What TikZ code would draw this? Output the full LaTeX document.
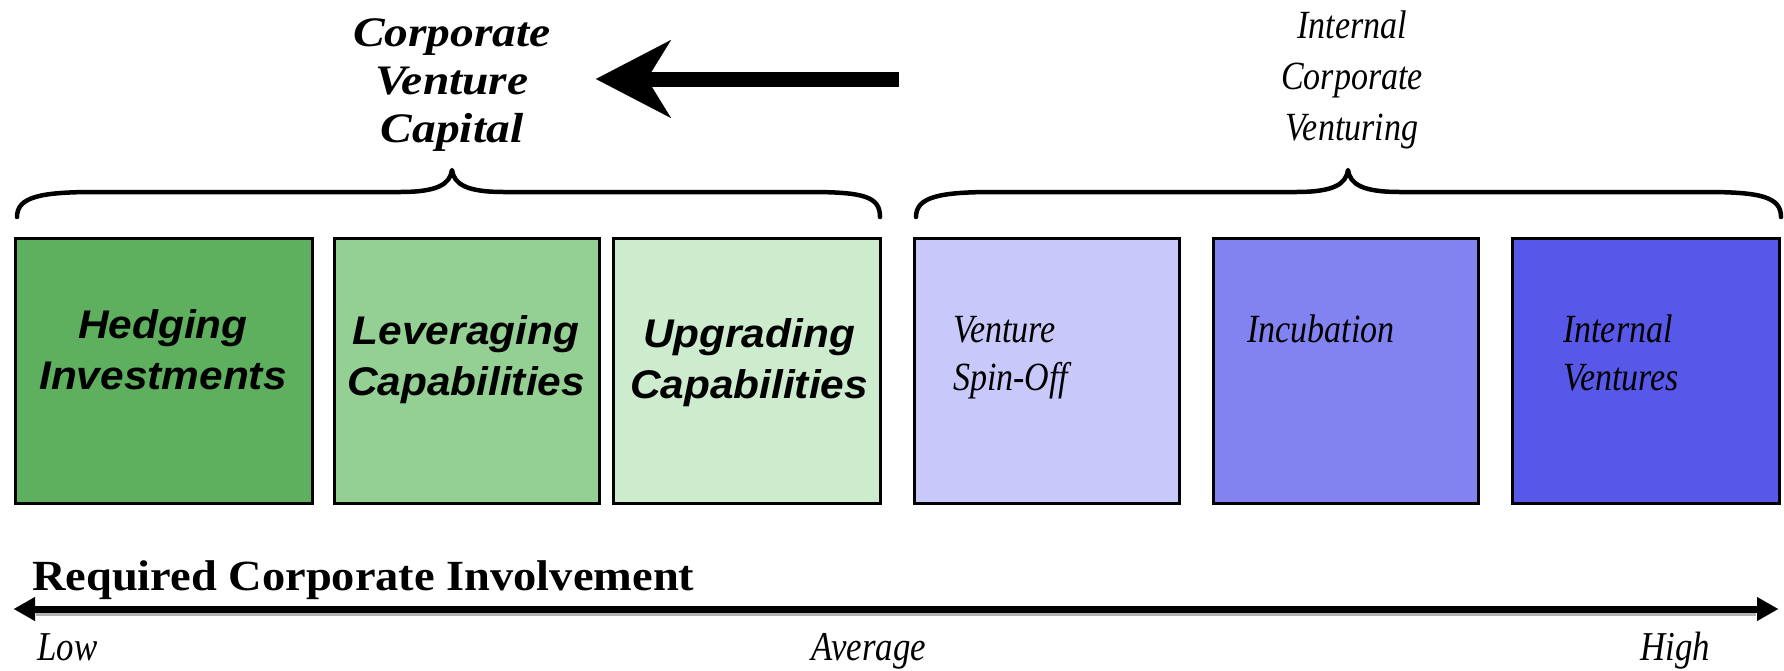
\documentclass[tikz,border=0pt]{standalone}
\usepackage{fontspec}
\setmainfont{Liberation Serif}
% narrow italic serif, wide bold serif and bold italic sans for the labels
\newfontfamily\gardisp[FakeStretch=0.85]{Liberation Serif}
\newfontfamily\gardispbold[FakeStretch=1.13]{Liberation Serif}
\newfontfamily\garhead[FakeStretch=1.08]{Liberation Serif}
\newfontfamily\boxsans[FakeStretch=1.06]{Liberation Sans}
\usetikzlibrary{arrows.meta,calc}

\definecolor{greenA}{RGB}{94,176,94}
\definecolor{greenB}{RGB}{148,207,148}
\definecolor{greenC}{RGB}{205,235,205}
\definecolor{blueA}{RGB}{200,200,250}
\definecolor{blueB}{RGB}{130,130,240}
\definecolor{blueC}{RGB}{88,88,232}

\begin{document}
\begin{tikzpicture}[x=1pt,y=-1pt,
  box/.style={draw=black, line width=3pt, minimum width=265pt, minimum height=265pt,
              anchor=north west, inner sep=0pt},
  sanslabel/.style={font=\boxsans\bfseries\itshape\fontsize{40}{51}\selectfont,
              align=center, anchor=base, inner sep=0pt},
  seriflabel/.style={font=\gardisp\itshape\fontsize{40}{48}\selectfont,
              align=left, anchor=base west, inner sep=0pt},
  grouptitle/.style={align=center, anchor=base, inner sep=0pt},
  scalelabel/.style={font=\gardisp\itshape\fontsize{41}{41}\selectfont, inner sep=0pt},
  bracestroke/.style={line width=4.5pt, line cap=round, line join=round}]
\useasboundingbox (0,0) rectangle (1784,670);

% group titles (multi-line nodes sit on the baseline of their last line)
\node[grouptitle, font=\gardispbold\bfseries\itshape\fontsize{42}{48}\selectfont]
  (cvc) at (452,142) {Corporate\\Venture\\Capital};
\node[grouptitle, font=\gardisp\itshape\fontsize{40}{51}\selectfont]
  (icv) at (1352,140) {Internal\\Corporate\\Venturing};

% direction arrow
\coordinate (pushTail) at (899,79);
\coordinate (pushTip) at (596,79);
\draw[line width=15pt, -{Stealth[length=75pt, width=78pt, inset=24pt, line width=0.1pt]}]
  (pushTail) -- (pushTip);

% curly braces over the two groups
\coordinate (cvcL) at (17,217);
\coordinate (cvcTip) at (452,170);
\coordinate (cvcR) at (880,217);
\draw[bracestroke] (cvcL) .. controls (17,197) and (40,192) .. (95,192) -- (400,192)
  .. controls (438,192) and (450,184) .. (cvcTip)
  .. controls (454,184) and (466,192) .. (504,192) -- (810,192)
  .. controls (865,192) and (880,197) .. (cvcR);
\coordinate (icvL) at (916,217);
\coordinate (icvTip) at (1348,170);
\coordinate (icvR) at (1781,217);
\draw[bracestroke] (icvL) .. controls (916,197) and (939,192) .. (994,192) -- (1296,192)
  .. controls (1334,192) and (1346,184) .. (icvTip)
  .. controls (1350,184) and (1362,192) .. (1400,192) -- (1706,192)
  .. controls (1761,192) and (1781,197) .. (icvR);

% the six forms of venturing
\node[box, fill=greenA, minimum width=297pt] (hedge) at (13.7,236.7) {};
\node[box, fill=greenB] (lever) at (333.4,236.7) {};
\node[box, fill=greenC, minimum width=267pt] (upgr) at (612.1,236.7) {};
\node[box, fill=blueA] (spin) at (912.5,236.7) {};
\node[box, fill=blueB] (incub) at (1211.7,236.7) {};
\node[box, fill=blueC, minimum width=267pt] (intv) at (1511,236.7) {};

\node[sanslabel] (hedgeT) at (163,389) {Hedging\\Investments};
\node[sanslabel] (leverT) at (466,395) {Leveraging\\Capabilities};
\node[sanslabel] (upgrT) at (749,398) {Upgrading\\Capabilities};
\node[seriflabel] (spinT) at (953,390) {Venture\\Spin-Off};
\node[seriflabel] (incubT) at (1247,342) {Incubation};
\node[seriflabel] (intvT) at (1563,390) {Internal\\Ventures};

% involvement scale
\node[font=\garhead\bfseries\fontsize{43}{43}\selectfont, anchor=base west, inner sep=0pt]
  (scaleT) at (32,590) {Required Corporate Involvement};
\coordinate (axL) at (14,609);
\coordinate (axR) at (1778,609);
\draw[black!30, line width=3pt] ($(axL)+(22,5)$) -- ($(axR)+(-22,5)$);
\draw[line width=7pt, {Triangle[length=21pt,width=24pt,line width=0.1pt]}-{Triangle[length=21pt,width=24pt,line width=0.1pt]}]
  (axL) -- (axR);
\node[scalelabel, anchor=base west] (low) at (37,660) {Low};
\node[scalelabel, anchor=base] (avg) at (869,660) {Average};
\node[scalelabel, anchor=base] (high) at (1675,660) {High};
\end{tikzpicture}
\end{document}
